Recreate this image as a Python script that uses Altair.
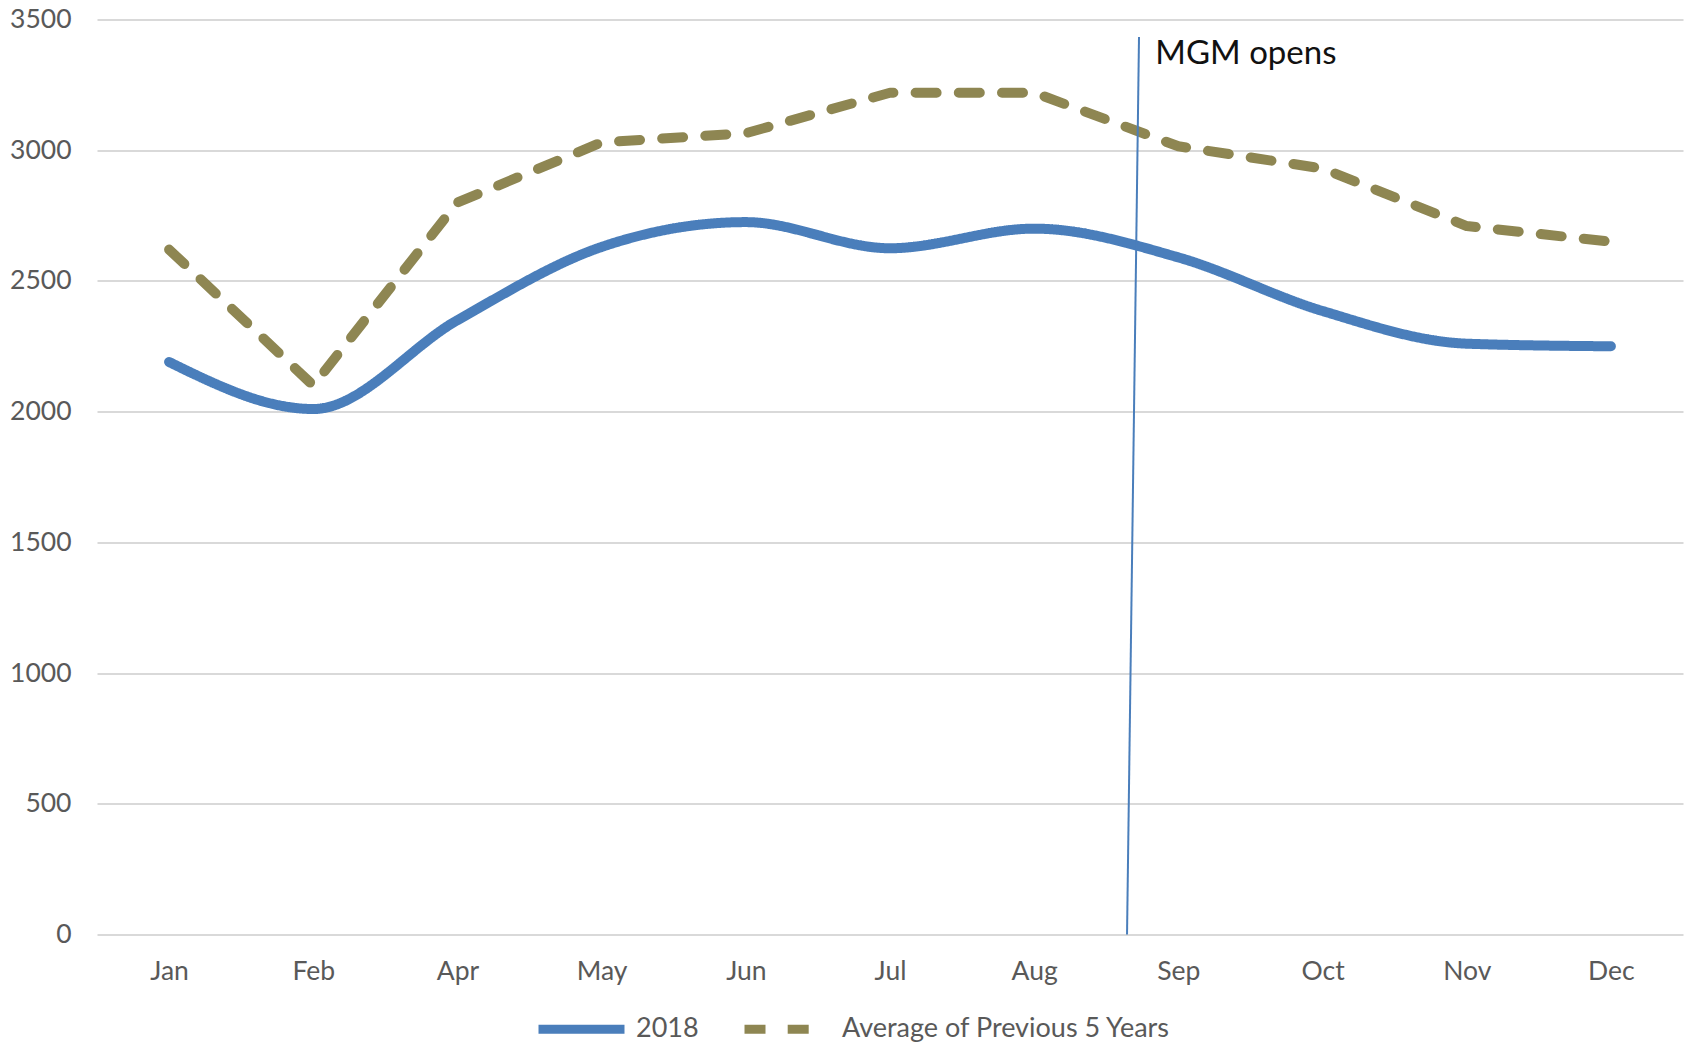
import json
import altair as alt
import pandas as pd

# ---- data ----
months = ["Jan", "Feb", "Apr", "May", "Jun", "Jul", "Aug", "Sep", "Oct", "Nov", "Dec"]
values_2018 = [2190, 2010, 2350, 2630, 2725, 2625, 2700, 2590, 2385, 2260, 2250]
values_avg = [2620, 2100, 2800, 3030, 3065, 3220, 3220, 3015, 2930, 2710, 2650]
series_names = ["2018", "Average of Previous 5 Years"]
y_ticks = [0, 500, 1000, 1500, 2000, 2500, 3000, 3500]

# annotation (positions in category-index / value units)
marker_x = [6.644, 6.727]
marker_y = [0, 3433]
marker_label = "MGM opens"
marker_label_pos = [6.84, 3368]

BLUE = "#4A7EBB"
OLIVE = "#8E8652"
GRID = "#D9D9D9"
LABEL = "#595959"
FONT = "Lato"

idx = list(range(len(months)))
df = pd.DataFrame(
    {
        "idx": idx + idx,
        "month": months + months,
        "value": values_2018 + values_avg,
        "series": [series_names[0]] * len(months) + [series_names[1]] * len(months),
    }
)

x_scale = alt.Scale(domain=[-0.5, len(months) - 0.5], nice=False, zero=False)
y_scale = alt.Scale(domain=[0, 3500], nice=False)

x_axis = alt.Axis(
    values=idx,
    labelExpr=f"{json.dumps(months)}[datum.value]",
    grid=False,
    domain=False,
    ticks=False,
    title=None,
    labelFont=FONT,
    labelFontSize=26.5,
    labelColor=LABEL,
    labelPadding=24,
)
y_axis = alt.Axis(
    values=y_ticks,
    format="d",
    grid=True,
    gridColor=GRID,
    gridWidth=2,
    domain=False,
    ticks=False,
    title=None,
    labelFont=FONT,
    labelFontSize=26.5,
    labelColor=LABEL,
    labelPadding=26,
)

leg = alt.Legend(
    title=None,
    orient="none",
    legendX=437,
    legendY=962,
    direction="horizontal",
    symbolType="stroke",
    symbolSize=7396,
    symbolStrokeWidth=9,
    labelFont=FONT,
    labelFontSize=27,
    labelColor=LABEL,
    labelLimit=0,
    labelOffset=7,
    columnPadding=27,
    padding=0,
)

color = alt.Color(
    "series:N", scale=alt.Scale(domain=series_names, range=[BLUE, OLIVE]), legend=leg
)
dash = alt.StrokeDash(
    "series:N",
    scale=alt.Scale(domain=series_names, range=[[1, 0], [21, 22.2]]),
    legend=leg,
)

base = alt.Chart(df).encode(
    x=alt.X("idx:Q", scale=x_scale, axis=x_axis),
    y=alt.Y("value:Q", scale=y_scale, axis=y_axis),
    color=color,
    strokeDash=dash,
)

line_2018 = base.transform_filter(alt.datum.series == series_names[0]).mark_line(
    interpolate="monotone", strokeWidth=10, strokeCap="round", strokeJoin="round"
)
line_avg = base.transform_filter(alt.datum.series == series_names[1]).mark_line(
    interpolate="linear", strokeWidth=10, strokeCap="round", strokeJoin="round"
)

marker_df = pd.DataFrame(
    {"x": [marker_x[0]], "x2": [marker_x[1]], "y": [marker_y[0]], "y2": [marker_y[1]]}
)
rule = alt.Chart(marker_df).mark_rule(color=BLUE, strokeWidth=2).encode(
    x=alt.X("x:Q", scale=x_scale, axis=x_axis),
    x2="x2:Q",
    y=alt.Y("y:Q", scale=y_scale, axis=y_axis),
    y2="y2:Q",
)

label_df = pd.DataFrame(
    {"x": [marker_label_pos[0]], "y": [marker_label_pos[1]], "t": [marker_label]}
)
label = alt.Chart(label_df).mark_text(
    align="left", baseline="middle", font=FONT, fontSize=33, color="#111111"
).encode(
    x=alt.X("x:Q", scale=x_scale, axis=x_axis),
    y=alt.Y("y:Q", scale=y_scale, axis=y_axis),
    text="t:N",
)

chart = (
    alt.layer(line_2018, line_avg, rule, label)
    .properties(
        width=1586,
        height=915,
        padding={"left": 89, "top": 11.5, "right": 3, "bottom": 108.5},
        autosize=alt.AutoSizeParams(type="none"),
    )
    .configure(font=FONT)
    .configure_view(stroke=None)
)

chart.save("out.html", embed_options={"renderer": "svg", "actions": False})
